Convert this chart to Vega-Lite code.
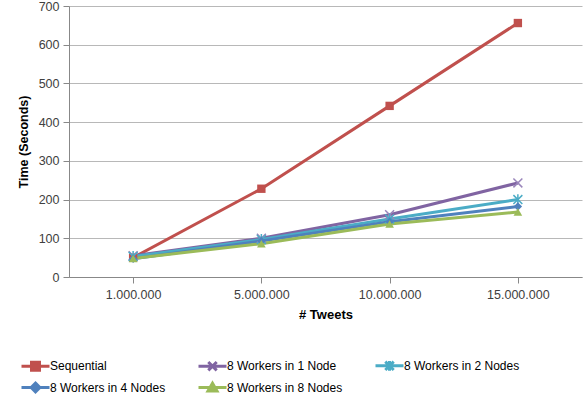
{
  "$schema": "https://vega.github.io/schema/vega-lite/v6.json",
  "width": 513,
  "height": 271,
  "autosize": {"type": "none"},
  "padding": {"left": 69, "top": 6, "right": 5, "bottom": 121},
  "background": "white",
  "config": {
    "view": {"stroke": null},
    "font": "Liberation Sans",
    "axis": {"labelFont": "Liberation Sans", "titleFont": "Liberation Sans", "labelColor": "#404040", "titleColor": "#000000"}
  },
  "data": {
    "values": [
      {"tweets": "1.000.000", "series": "Sequential", "time": 50},
      {"tweets": "5.000.000", "series": "Sequential", "time": 228},
      {"tweets": "10.000.000", "series": "Sequential", "time": 442},
      {"tweets": "15.000.000", "series": "Sequential", "time": 656},
      {"tweets": "1.000.000", "series": "8 Workers in 1 Node", "time": 55},
      {"tweets": "5.000.000", "series": "8 Workers in 1 Node", "time": 100},
      {"tweets": "10.000.000", "series": "8 Workers in 1 Node", "time": 161},
      {"tweets": "15.000.000", "series": "8 Workers in 1 Node", "time": 243},
      {"tweets": "1.000.000", "series": "8 Workers in 2 Nodes", "time": 53},
      {"tweets": "5.000.000", "series": "8 Workers in 2 Nodes", "time": 97},
      {"tweets": "10.000.000", "series": "8 Workers in 2 Nodes", "time": 150},
      {"tweets": "15.000.000", "series": "8 Workers in 2 Nodes", "time": 200},
      {"tweets": "1.000.000", "series": "8 Workers in 4 Nodes", "time": 47},
      {"tweets": "5.000.000", "series": "8 Workers in 4 Nodes", "time": 93},
      {"tweets": "10.000.000", "series": "8 Workers in 4 Nodes", "time": 143},
      {"tweets": "15.000.000", "series": "8 Workers in 4 Nodes", "time": 182},
      {"tweets": "1.000.000", "series": "8 Workers in 8 Nodes", "time": 48},
      {"tweets": "5.000.000", "series": "8 Workers in 8 Nodes", "time": 86},
      {"tweets": "10.000.000", "series": "8 Workers in 8 Nodes", "time": 137},
      {"tweets": "15.000.000", "series": "8 Workers in 8 Nodes", "time": 168}
    ]
  },
  "encoding": {
    "x": {
      "field": "tweets", "type": "ordinal", "sort": null,
      "scale": {"type": "point", "padding": 0.5},
      "axis": {
        "title": "# Tweets", "titleFontSize": 13, "titleFontWeight": "bold", "titlePadding": 8,
        "labelAngle": 0, "labelFontSize": 12.5, "labelPadding": 5,
        "domainColor": "#888888", "tickColor": "#888888", "tickSize": 6, "grid": false
      }
    },
    "y": {
      "field": "time", "type": "quantitative",
      "scale": {"domain": [0, 700], "nice": false},
      "axis": {
        "title": "Time (Seconds)", "titleFontSize": 12.5, "titleFontWeight": "bold", "titlePadding": 8,
        "values": [0, 100, 200, 300, 400, 500, 600, 700],
        "labelFontSize": 12.5, "labelPadding": 4,
        "domainColor": "#888888", "tickColor": "#888888", "tickSize": 6,
        "gridColor": "#b8b8b8", "gridWidth": 1
      }
    }
  },
  "layer": [
    {
      "mark": {"type": "point", "filled": true, "opacity": 0, "size": 196},
      "encoding": {
        "color": {
          "field": "series", "type": "nominal",
          "scale": {
            "domain": ["Sequential", "8 Workers in 1 Node", "8 Workers in 2 Nodes", "8 Workers in 4 Nodes", "8 Workers in 8 Nodes"],
            "range": ["#C0504D", "#8064A2", "#4BACC6", "#4F81BD", "#9BBB59"]
          },
          "legend": {
            "title": null,
            "orient": "none",
            "legendX": -49,
            "legendY": 351,
            "columns": 3,
            "direction": "horizontal",
            "gridAlign": "all",
            "columnPadding": 26,
            "rowPadding": 0,
            "labelFont": "Liberation Sans",
            "labelFontSize": 12,
            "labelColor": "#000000",
            "labelOffset": 6,
            "labelLimit": 200,
            "symbolSize": 196,
            "symbolOffset": 7,
            "symbolStrokeWidth": 3,
            "symbolOpacity": 1
          }
        },
        "shape": {
          "field": "series", "type": "nominal", "legend": null,
          "scale": {
            "domain": ["Sequential", "8 Workers in 1 Node", "8 Workers in 2 Nodes", "8 Workers in 4 Nodes", "8 Workers in 8 Nodes"],
            "range": [
              "M-2,0H2M-0.57,-0.57H0.57V0.57H-0.57Z",
              "M-2,0H2M-0.6,-0.6L0.6,0.6M-0.6,0.6L0.6,-0.6",
              "M-2,0H2M-0.6,-0.6L0.6,0.6M-0.6,0.6L0.6,-0.6M0,-0.7V0.7",
              "M-2,0H2M0,-0.62L0.62,0L0,0.62L-0.62,0Z",
              "M-2,0H2M0,-0.6L0.64,0.5H-0.64Z"
            ]
          }
        }
      }
    },
    {
      "mark": {"type": "line", "strokeWidth": 3},
      "encoding": {
        "color": {"field": "series", "type": "nominal"}
      }
    },
    {
      "transform": [{"filter": "datum.series === 'Sequential'"}],
      "mark": {"type": "point", "shape": "square", "size": 70, "filled": true, "opacity": 1, "color": "#C0504D"}
    },
    {
      "transform": [{"filter": "datum.series === '8 Workers in 1 Node'"}],
      "mark": {"type": "point", "shape": "M-1,-1L1,1M-1,1L1,-1", "size": 80, "filled": false, "opacity": 1, "strokeWidth": 1.5, "color": "#9a86bb"}
    },
    {
      "transform": [{"filter": "datum.series === '8 Workers in 2 Nodes'"}],
      "mark": {"type": "point", "shape": "M-1,-1L1,1M-1,1L1,-1M0,-1.2V1.2", "size": 80, "filled": false, "opacity": 1, "strokeWidth": 1.5, "color": "#4BACC6"}
    },
    {
      "transform": [{"filter": "datum.series === '8 Workers in 4 Nodes'"}],
      "mark": {"type": "point", "shape": "diamond", "size": 70, "filled": true, "opacity": 1, "color": "#4F81BD"}
    },
    {
      "transform": [{"filter": "datum.series === '8 Workers in 8 Nodes'"}],
      "mark": {"type": "point", "shape": "triangle-up", "size": 75, "filled": true, "opacity": 1, "color": "#9BBB59"}
    }
  ]
}
